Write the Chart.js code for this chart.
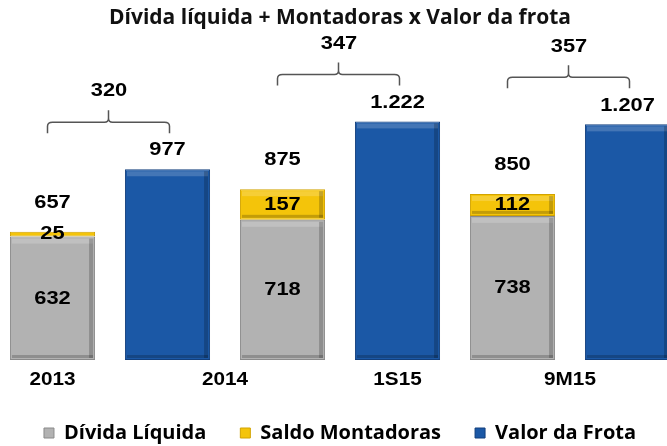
<!DOCTYPE html>
<html>
<head>
<meta charset="utf-8">
<script src="https://cdn.jsdelivr.net/npm/chart.js@4/dist/chart.umd.min.js"></script>
<style>
  body { margin: 0; overflow: hidden; background: #fff; }
  #wrap { position: absolute; left: -5px; top: 0; width: 690px; height: 446px; }
</style>
</head>
<body>
<div id="wrap"><canvas id="chart" width="690" height="446"></canvas></div>
<script>
// one slot per bar: debt stack, then fleet value
const slots = ['2013', '2013 frota', '2014', '1S15 frota', '9M15', '9M15 frota'];
const xTicks = ['2013', '2014', '1S15', '9M15'];
const dividaLiquida = [632, null, 718, null, 738, null];
const saldoMontadoras = [25, null, 157, null, 112, null];
const valorFrota = [null, 977, null, 1222, null, 1207];
const totais = [657, 875, 850];
const diferencas = [320, 347, 357];

const fmt = v => String(v).replace(/\B(?=(\d{3})+(?!\d))/g, '.');

// where each tick label sits, in slot units
const tickSlots = [0, 1.5, 3, 4.5];

function stretchText(ctx, text, x, y, size) {
  ctx.save();
  ctx.translate(x, y);
  ctx.scale(1.15, 1);
  ctx.font = 'bold ' + size + 'px "Liberation Sans", Arial, sans-serif';
  ctx.fillStyle = '#000';
  ctx.textAlign = 'center';
  ctx.textBaseline = 'middle';
  ctx.fillText(text, 0, 0);
  ctx.restore();
}

function drawBracket(ctx, L, R, yb) {
  const C = (L + R) / 2;
  ctx.save();
  ctx.strokeStyle = '#555';
  ctx.lineWidth = 1.5;
  ctx.beginPath();
  ctx.moveTo(L, yb + 11);
  ctx.lineTo(L, yb + 4);
  ctx.quadraticCurveTo(L, yb, L + 5, yb);
  ctx.lineTo(C - 4, yb);
  ctx.quadraticCurveTo(C, yb, C, yb - 4);
  ctx.lineTo(C, yb - 12);
  ctx.moveTo(C, yb - 4);
  ctx.quadraticCurveTo(C, yb, C + 4, yb);
  ctx.lineTo(R - 5, yb);
  ctx.quadraticCurveTo(R, yb, R, yb + 4);
  ctx.lineTo(R, yb + 11);
  ctx.stroke();
  ctx.restore();
}

const bevelPlugin = {
  id: 'bevel',
  afterDatasetsDraw(chart) {
    const ctx = chart.ctx;
    chart.data.datasets.forEach((ds, di) => {
      chart.getDatasetMeta(di).data.forEach(bar => {
        if (bar.skip) return;
        const { x, y, base, width } = bar.getProps(['x', 'y', 'base', 'width'], true);
        const top = Math.min(y, base), h = Math.abs(base - y);
        if (!h || isNaN(h) || h < 8) return;
        const left = x - width / 2;
        ctx.save();
        ctx.fillStyle = 'rgba(255,255,255,0.18)';
        ctx.fillRect(left + 2, top + 2, width - 4, 5);
        ctx.fillStyle = 'rgba(0,0,0,0.2)';
        ctx.fillRect(left + width - 6, top + 2, 4, h - 4);
        ctx.fillRect(left + 2, top + h - 5, width - 4, 3);
        ctx.restore();
      });
    });
  }
};

const labelPlugin = {
  id: 'labels',
  afterDraw(chart) {
    const ctx = chart.ctx;
    const xs = chart.scales.x;
    const ys = chart.scales.y;
    const cx = i => xs.getPixelForValue(i);
    // numbers inside the stacks
    dividaLiquida.forEach((v, i) => {
      if (v == null) return;
      stretchText(ctx, fmt(v), cx(i), (ys.getPixelForValue(0) + ys.getPixelForValue(v)) / 2, 19);
    });
    saldoMontadoras.forEach((v, i) => {
      if (v == null) return;
      const b = dividaLiquida[i];
      stretchText(ctx, fmt(v), cx(i), (ys.getPixelForValue(b) + ys.getPixelForValue(b + v)) / 2, 19);
    });
    // stack totals and fleet values
    const stackIdx = [0, 2, 4];
    stackIdx.forEach((i, k) => {
      stretchText(ctx, fmt(totais[k]), cx(i), ys.getPixelForValue(totais[k]) - 29, 19);
    });
    const frotaIdx = [1, 3, 5];
    frotaIdx.forEach((i, k) => {
      const topY = ys.getPixelForValue(valorFrota[i]);
      stretchText(ctx, fmt(valorFrota[i]), cx(i), topY - 19, 19);
      const yb = topY - 47;
      drawBracket(ctx, cx(stackIdx[k]) - 5, cx(i) + 2, yb);
      stretchText(ctx, fmt(diferencas[k]), (cx(stackIdx[k]) + cx(i)) / 2 - 1, yb - 31, 19);
    });
    // category labels under the bars
    const step = xs.getPixelForValue(1) - xs.getPixelForValue(0);
    xTicks.forEach((t, k) => {
      stretchText(ctx, t, cx(0) + tickSlots[k] * step, chart.chartArea.bottom + 20, 18);
    });
  }
};

new Chart(document.getElementById('chart'), {
  type: 'bar',
  data: {
    labels: slots,
    datasets: [
      {
        label: 'Dívida Líquida',
        data: dividaLiquida,
        backgroundColor: '#b2b2b2',
        borderColor: '#8a8a8a',
        borderWidth: 1,
        borderSkipped: false
      },
      {
        label: 'Saldo Montadoras',
        data: saldoMontadoras,
        backgroundColor: '#f4c40a',
        borderColor: '#d2a300',
        borderWidth: 1,
        borderSkipped: false
      },
      {
        label: 'Valor da Frota',
        data: valorFrota,
        backgroundColor: '#1b58a6',
        borderColor: '#123f7c',
        borderWidth: 1,
        borderSkipped: false
      }
    ]
  },
  options: {
    responsive: false,
    animation: false,
    datasets: {
      bar: { barPercentage: 0.74, categoryPercentage: 1 }
    },
    layout: { padding: { top: 0, bottom: -7, left: 0, right: 0 } },
    plugins: {
      title: {
        display: true,
        text: 'Dívida líquida + Montadoras x Valor da frota',
        color: '#111',
        font: { family: '"Open Sans", sans-serif', size: 21, weight: 'bold', lineHeight: 1.2 },
        padding: { top: 5, bottom: 76 }
      },
      legend: {
        position: 'bottom',
        labels: {
          color: '#000',
          boxWidth: 10,
          boxHeight: 10,
          padding: 34,
          font: { family: '"Open Sans", sans-serif', size: 20, weight: 'bold' }
        }
      },
      tooltip: { enabled: false }
    },
    scales: {
      x: {
        stacked: true,
        grid: { display: false },
        border: { display: false },
        ticks: { display: false },
        afterFit(scale) { scale.height = 29; }
      },
      y: {
        stacked: true,
        display: false,
        min: 0,
        max: 1300
      }
    }
  },
  plugins: [bevelPlugin, labelPlugin]
});
</script>
</body>
</html>
